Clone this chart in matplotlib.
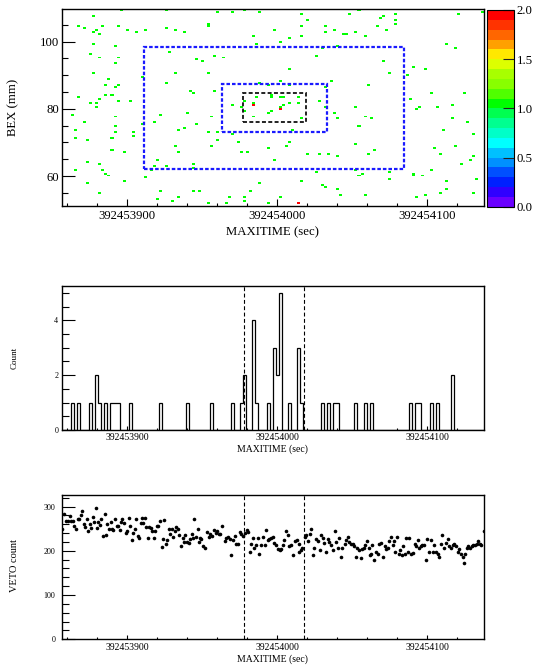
import numpy as np
import matplotlib
matplotlib.use("Agg")
import matplotlib.pyplot as plt
from matplotlib.colors import ListedColormap, BoundaryNorm
from matplotlib.patches import Rectangle
from matplotlib.ticker import MultipleLocator, FuncFormatter

plt.rcParams['font.family'] = ['Liberation Serif', 'DejaVu Serif']

# ---------------------------------------------------------------- data
T_REF = 392453997.7                      # reference trigger time (sec)
T_MIN, T_MAX = 392453856.7, 392454138.0  # plotted time window
N_TBINS = 140
BEX_MIN, BEX_MAX, N_BEXBINS = 51.1, 109.6, 100

# selection windows (time half-width in sec, BEX range in mm)
cut_dt = [87.0, 35.0, 21.0]
cut_bex = [(62.1, 98.5), (73.2, 87.5), (76.2, 84.6)]
cut_colors = ['#1a1aff', '#1a1aff', '#111111']
T_CUT = T_REF + 0.25
line_dt = 20.0

# individual events: time offset from T_REF (sec) and BEX (mm)
event_dt = [
    -102.0, -72.2, -38.2, -28.1, -20.4, -8.8, -120.5, -44.4, -44.4, -129.8,
    -126.0, -114.5, -104.4, -120.5, -118.2, -116.0, -98.4, -92.4, -86.4, -72.2,
    -66.4, -60.4, -14.1, -120.5, -106.4, -12.4, -70.4, -122.5, -116.0, -104.4,
    -106.4, -52.4, -39.9, -34.2, -120.5, -110.2, -88.2, -72.0, -66.6, -112.2,
    -106.0, -104.4, -56.2, -54.4, -112.0, -129.8, -122.2, -118.2, -115.6, -108.4,
    -104.4, -96.4, -118.2, -134.0, -58.2, -76.4, -106.4, -126.0, -80.0, -106.4,
    -88.2, -52.4, -131.6, -106.4, -94.0, -64.0, -60.4, -94.0, -131.8, -108.4,
    -123.8, -66.6, -64.0, -108.4, -100.4, -22.2, -18.1, -123.8, -116.0, -78.4,
    -80.0, -81.5, -72.2, -54.4, -52.6, -131.6, -114.5, -112.2, -110.2, -86.4,
    -100.4, -123.8, -10.1, -116.0, -76.4, -78.4, -68.2, -64.0, -54.4, -50.4,
    -44.4, -30.2, -31.9, -20.4, -20.4, -14.6,
    -48.2, -44.4, 9.7, -39.9, 3.7, -8.4, -2.8, 9.7, 39.7, 35.7,
    -28.4, -22.4, -12.4, -0.4, -0.4, 3.7, 5.9, -20.4, -14.4, -14.4,
    -14.4, 11.7, 17.7, 17.7, 5.7, 3.7, 5.2, 5.2, 31.7, 35.7,
    -20.4, -4.3, -0.4, -14.4, -42.4, 19.7, 41.7, 43.0, -44.4, -38.4,
    -28.4, -4.3, 13.7, -38.4, -24.4, 11.7, -42.4, -4.3, 7.7,
    17.9, 51.3, 57.5, 82.0, 73.5, 71.3, 82.0, 82.0, 123.8, 139.3,
    23.7, 19.7, 1.4, 9.7, 19.7, 35.2, 35.2, 41.5, 45.9, 49.5,
    55.7, 61.9, 69.7, 75.5, 5.2, 43.3, 33.7, 115.8, 121.5, 27.9,
    73.7, 77.7, 93.7, 101.5, 88.9, 63.7, 91.5, 105.3, 127.1, 95.5,
    97.5, 109.1, 119.1, 55.9, 61.7, 65.9, 119.1, 129.8, 57.7, 113.5,
    133.1, 55.9, 67.5, 107.5, 121.5, 111.1, 133.1, 131.1, 125.1, 23.7,
    31.7, 37.7, 43.7, 63.5, -0.3, 29.7, 54.2, 57.7, 59.3, 78.0,
    93.7, 93.7, 99.8, 105.5, 17.9, 31.9, 35.2, 41.9, 45.3, 61.9,
    77.7, 115.8, 135.3, 114.7, 110.9, 102.0, 96.0, 132.7, 5.2, -2.6,
    17.5, 17.5,
]
event_bex = [
    109.4, 109.4, 108.9, 108.9, 109.4, 108.9, 107.4, 105.2, 104.7, 104.4,
    103.8, 104.6, 104.4, 103.0, 103.3, 102.3, 103.2, 102.9, 103.2, 103.8,
    103.2, 102.9, 101.8, 99.3, 98.7, 99.4, 97.3, 96.3, 95.2, 95.2,
    93.8, 94.9, 95.7, 95.2, 90.4, 88.9, 89.2, 87.8, 90.7, 87.1,
    86.4, 86.9, 85.5, 84.9, 84.2, 83.3, 81.9, 81.9, 82.9, 83.9,
    82.5, 82.5, 80.4, 78.3, 79.1, 78.1, 77.7, 76.0, 76.0, 74.8,
    75.3, 75.3, 73.9, 73.0, 73.2, 73.8, 74.4, 71.7, 71.5, 71.5,
    70.8, 68.8, 67.4, 67.9, 67.1, 67.4, 67.1, 64.3, 63.7, 64.8,
    62.9, 61.7, 62.9, 63.4, 62.3, 62.2, 61.9, 60.7, 59.9, 59.3,
    58.5, 57.9, 57.9, 54.9, 55.4, 53.3, 52.8, 54.0, 55.5, 55.7,
    51.9, 54.0, 51.9, 54.0, 52.5, 55.7,
    94.3, 90.8, 91.9, 85.5, 88.3, 87.7, 87.2, 87.2, 88.4, 86.3,
    81.0, 80.4, 83.3, 84.3, 83.3, 83.3, 83.3, 82.5, 81.9, 81.3,
    81.3, 81.9, 83.3, 81.9, 81.3, 80.4, 79.8, 79.8, 82.5, 80.8,
    79.2, 78.9, 79.2, 77.7, 77.7, 77.3, 78.9, 77.3, 73.0, 73.3,
    72.4, 73.0, 73.8, 70.9, 70.0, 70.3, 68.8, 68.6, 68.8,
    108.2, 108.2, 109.4, 108.2, 107.4, 106.8, 106.4, 105.2, 108.0, 108.8,
    106.4, 104.6, 103.2, 101.4, 101.8, 104.4, 102.9, 103.2, 102.3, 102.3,
    102.9, 101.8, 104.6, 103.2, 99.9, 98.7, 97.9, 99.4, 97.9, 95.7,
    94.3, 90.8, 92.2, 91.9, 89.8, 87.3, 82.8, 84.6, 84.9, 80.2,
    80.4, 80.4, 81.0, 80.4, 77.7, 76.9, 77.4, 76.0, 74.5, 73.9,
    72.4, 69.3, 67.9, 68.5, 68.8, 66.5, 65.9, 65.0, 63.8, 66.5,
    66.5, 66.5, 65.9, 66.5, 65.0, 61.4, 62.2, 60.2, 60.7, 61.3,
    60.7, 60.2, 59.9, 62.0, 58.5, 57.0, 56.4, 55.8, 54.2, 54.2,
    58.8, 58.5, 58.8, 55.8, 54.9, 54.2, 54.0, 54.9, 54.0, 52.0,
    51.9, 51.9,
]

# time projection in the signal BEX window: bin index -> counts
hist_bin = [3, 5, 9, 11, 12, 14, 16, 17, 18, 22, 32, 41, 49, 56, 59, 60, 63,
            64, 68, 70, 71, 72, 75, 78, 79, 86, 88, 90, 91, 97, 100, 102,
            115, 117, 118, 122, 124, 129]
hist_count = [1, 1, 1, 2, 1, 1, 1, 1, 1, 1, 1, 1, 1, 1, 1, 2, 4,
              1, 1, 3, 2, 5, 1, 3, 1, 1, 1, 1, 1, 1, 1, 1,
              1, 1, 1, 1, 1, 2]

# veto counter rate: time offset from T_REF (sec) and counts
veto_dt = [
    -140.9, -139.6, -138.7, -137.4, -136.0, -135.1, -133.8, -132.9, -131.6, -130.7,
    -129.8, -128.7, -127.8, -126.7, -125.8, -124.7, -123.6, -122.7, -121.6, -120.7,
    -119.6, -118.7, -117.8, -116.9, -116.0, -114.9, -114.0, -112.7, -111.8, -110.9,
    -109.8, -108.7, -107.8, -106.9, -105.8, -104.7, -103.8, -102.7, -101.8, -100.9,
    -99.8, -98.7, -97.8, -96.7, -95.8, -94.7, -93.8, -92.7, -91.8, -90.7,
    -89.8, -88.7, -87.8, -86.9, -85.8, -84.9, -83.8, -82.9, -81.8, -80.9,
    -79.8, -78.9, -77.7, -76.9, -75.8, -74.6, -73.8, -72.9, -71.7, -70.9,
    -69.7, -68.9, -67.7, -66.9, -66.0, -64.9, -64.0, -62.9, -62.0, -60.8,
    -60.0, -58.9, -58.0, -56.8, -56.0, -54.8, -54.0, -52.9, -52.0, -50.8,
    -50.0, -49.1, -48.2,
    -47.1, -45.7, -44.4, -43.3, -42.2, -41.1, -39.9, -38.8, -37.7, -36.6,
    -35.5, -34.2, -32.8, -31.7, -30.6, -29.3, -28.2, -27.0, -25.9, -24.8,
    -23.7, -22.6, -21.5, -20.4, -19.3, -18.1, -17.0, -15.9, -14.8, -13.7,
    -12.8, -11.7, -10.6, -9.5, -8.4, -7.2, -6.1, -5.0, -3.9, -2.8,
    -1.7, -0.6, 0.5, 1.7, 2.8, 3.9, 5.0, 6.1, 7.2, 8.3,
    9.4, 10.5, 11.7, 13.0, 14.1, 15.4, 16.6, 17.2, 18.3, 19.2,
    20.6, 21.7, 22.8, 23.9, 25.0, 26.1, 27.2, 28.3, 29.5, 30.6,
    31.7, 32.8, 33.9, 35.0, 36.1, 37.2, 38.4, 39.5, 40.6, 41.7,
    42.8, 43.9,
    44.6, 45.9, 47.3, 48.2, 49.5, 50.4, 51.7, 52.8, 53.9, 55.0,
    55.7, 57.0, 58.2, 58.8, 60.2, 61.0, 62.4, 63.3, 64.4, 65.0,
    65.9, 67.0, 68.2, 69.3, 70.4, 71.5, 72.6, 74.0, 74.8, 76.0,
    77.1, 78.2, 79.3, 80.4, 81.1, 82.2, 83.3, 84.4, 85.5, 86.4,
    87.5, 88.4, 89.5, 90.4, 91.5, 92.9, 94.0, 94.9, 96.0, 97.1,
    98.0, 99.1, 100.2, 101.5, 102.6, 103.8, 104.9, 106.0, 107.1, 108.2,
    109.3, 110.4, 111.5, 112.6, 113.8, 114.9, 116.0, 117.1, 118.2, 119.3,
    120.4, 121.5, 122.7, 123.8, 124.9, 126.0, 126.7, 127.8, 128.7, 129.8,
    130.9, 132.2, 133.1, 134.2, 135.3, 136.4, 137.6, 138.5, 140.0,
]
veto_count = [
    249, 284, 267, 267, 278, 267, 268, 257, 250, 272,
    272, 280, 290, 261, 253, 271, 245, 260, 252, 276,
    265, 296, 252, 265, 258, 272, 233, 283, 235, 261,
    250, 265, 250, 246, 272, 257, 256, 246, 266, 272,
    262, 241, 244, 275, 256, 225, 241, 250, 272, 233,
    229, 263, 274, 263, 273, 253, 228, 253, 251, 244,
    228, 245, 256, 256, 268, 208, 226, 270, 215, 225,
    250, 238, 250, 231, 244, 253, 250, 235, 211, 229,
    219, 236, 219, 218, 227, 237, 229, 272, 231, 250,
    220, 229, 226,
    210, 206, 242, 230, 238, 234, 247, 240, 244, 238,
    239, 255, 222, 229, 232, 227, 191, 225, 233, 215,
    215, 242, 238, 234, 241, 247, 242, 198, 215, 229,
    206, 212, 229, 193, 213, 231, 213, 247, 225, 226,
    229, 230, 217, 213, 204, 202, 204, 213, 225, 244,
    236, 210, 213, 191, 221, 225, 215, 197, 202, 206,
    230, 236, 221, 238, 250, 191, 207, 227, 221, 202,
    235, 229, 217, 197, 227, 219, 212, 202, 245, 219,
    207, 229,
    185, 207, 215, 225, 230, 219, 215, 215, 210, 185,
    206, 202, 183, 204, 207, 213, 221, 206, 191, 192,
    213, 180, 197, 192, 215, 217, 185, 210, 204, 206,
    221, 230, 213, 221, 198, 230, 192, 202, 191, 211,
    192, 229, 198, 229, 192, 195, 215, 210, 225, 207,
    210, 212, 213, 180, 227, 198, 225, 197, 213, 197,
    192, 187, 215, 236, 207, 217, 227, 210, 206, 213,
    215, 210, 198, 204, 192, 185, 172, 192, 207, 210,
    207, 210, 213, 212, 216, 221, 215, 213, 245,
]

# ---------------------------------------------------------------- layout
W, H = 535, 668
fig = plt.figure(figsize=(W / 100, H / 100), dpi=100)


def px_axes(x0, y0, x1, y1):
    return fig.add_axes([x0 / W, 1 - y1 / H, (x1 - x0) / W, (y1 - y0) / H])


def px_text(x, y, s, **kw):
    fig.text(x / W, 1 - y / H, s, ha='center', va='center', **kw)


time_fmt = FuncFormatter(lambda v, _: f"{v:.0f}")
t_edges = np.linspace(T_MIN, T_MAX, N_TBINS + 1)
b_edges = np.linspace(BEX_MIN, BEX_MAX, N_BEXBINS + 1)


def style_time_axis(ax, major_len, minor_len, labelsize, pad):
    ax.set_xlim(T_MIN, T_MAX)
    ax.xaxis.set_major_locator(MultipleLocator(100))
    ax.xaxis.set_minor_locator(MultipleLocator(20))
    ax.xaxis.set_major_formatter(time_fmt)
    ax.tick_params(axis='x', which='major', direction='in', length=major_len,
                   width=0.8, labelsize=labelsize, pad=pad, top=False)
    ax.tick_params(axis='x', which='minor', direction='in', length=minor_len,
                   width=0.8, top=False)
    for sp in ax.spines.values():
        sp.set_linewidth(1.0)


# ------------------------------------------------------ 2D event map
ax1 = px_axes(62.3, 9.3, 484, 206)
palette = ['#6a00ff', '#3000ff', '#0020ff', '#0050ff', '#0090ff',
           '#00c0ff', '#00ffff', '#00ffc8', '#00ff90', '#00ff50',
           '#00ff00', '#50ff00', '#88ff00', '#a8ff00', '#ddff00',
           '#ffe800', '#ffa000', '#ff6600', '#ff3300', '#ff0000']
cmap = ListedColormap(palette).with_extremes(over='#ff0000')
norm = BoundaryNorm(np.linspace(0, 2, 21), cmap.N)

counts2d, _, _ = np.histogram2d(T_REF + np.asarray(event_dt), np.asarray(event_bex),
                                bins=[t_edges, b_edges])
mesh = ax1.pcolormesh(t_edges, b_edges, np.ma.masked_equal(counts2d.T, 0),
                      cmap=cmap, norm=norm, antialiased=False, edgecolors='none')

dash_styles = [(0, (1.6, 0.9)), (0, (1.6, 0.9)), (0, (2.2, 1.3))]
widths = [1.6, 1.6, 1.3]
for dt, (b0, b1), col, ls, lw in zip(cut_dt, cut_bex, cut_colors, dash_styles, widths):
    ax1.add_patch(Rectangle((T_CUT - dt, b0), 2 * dt, b1 - b0, fill=False,
                            edgecolor=col, linestyle=ls, linewidth=lw, zorder=3))

ax1.set_ylim(BEX_MIN, BEX_MAX)
style_time_axis(ax1, 4.8, 2.0, 9.2, 3.0)
ax1.yaxis.set_major_locator(MultipleLocator(20))
ax1.yaxis.set_minor_locator(MultipleLocator(5))
ax1.tick_params(axis='y', which='major', direction='in', length=9.1, width=0.8,
                labelsize=9.2, pad=2, right=False)
ax1.tick_params(axis='y', which='minor', direction='in', length=4.3, width=0.8,
                right=False)
px_text(272.5, 232, 'MAXITIME (sec)', fontsize=9.2)
px_text(13.5, 107, 'BEX (mm)', fontsize=9.2, rotation=90)

cax = px_axes(487, 10, 514, 206.7)
cb = fig.colorbar(mesh, cax=cax, ticks=[0, 0.5, 1.0, 1.5, 2.0])
cb.outline.set_linewidth(0.8)
cb.minorticks_off()
cax.yaxis.set_major_formatter(FuncFormatter(lambda v, _: f"{v:.1f}"))
cax.tick_params(axis='y', direction='in', length=7.9, width=0.8, labelsize=9.2,
                pad=2, right=True, left=False, color='#222222')

# ------------------------------------------------------ time projection
ax2 = px_axes(62.3, 286, 484, 430)
hist = np.zeros(N_TBINS)
hist[np.asarray(hist_bin)] = hist_count
ax2.stairs(hist, t_edges, color='black', linewidth=0.9, baseline=0)
for sgn in (-1, 1):
    ax2.axvline(T_CUT + sgn * line_dt, color='black', linestyle=(0, (3.5, 2.2)),
                linewidth=0.8)
ax2.set_ylim(0, 5.25)
style_time_axis(ax2, 2.9, 1.5, 7.0, 2.5)
ax2.yaxis.set_major_locator(MultipleLocator(2))
ax2.yaxis.set_minor_locator(MultipleLocator(0.5))
ax2.tick_params(axis='y', which='major', direction='in', length=9.1, width=0.8,
                labelsize=5.8, pad=3, right=False)
ax2.tick_params(axis='y', which='minor', direction='in', length=4.8, width=0.8,
                right=False)
px_text(272, 449, 'MAXITIME (sec)', fontsize=7.0)
px_text(14.5, 358, 'Count', fontsize=6.5, rotation=90)

# ------------------------------------------------------ veto rate
ax3 = px_axes(62.3, 495, 484, 639.3)
ax3.plot(T_REF + np.asarray(veto_dt), veto_count, 'o', markersize=2.6,
         color='black', markeredgewidth=0)
for sgn in (-1, 1):
    ax3.axvline(T_CUT + sgn * line_dt, color='black', linestyle=(0, (3.5, 2.2)),
                linewidth=0.8)
ax3.set_ylim(0, 326)
style_time_axis(ax3, 2.9, 1.5, 7.0, 2.5)
ax3.yaxis.set_major_locator(MultipleLocator(100))
ax3.yaxis.set_minor_locator(MultipleLocator(20))
ax3.tick_params(axis='y', which='major', direction='in', length=9.1, width=0.8,
                labelsize=5.8, pad=5, right=False)
ax3.tick_params(axis='y', which='minor', direction='in', length=4.8, width=0.8,
                right=False)
px_text(272, 659, 'MAXITIME (sec)', fontsize=7.0)
px_text(14.5, 566, 'VETO count', fontsize=7.5, rotation=90)

fig.savefig('out.png', dpi=100)
